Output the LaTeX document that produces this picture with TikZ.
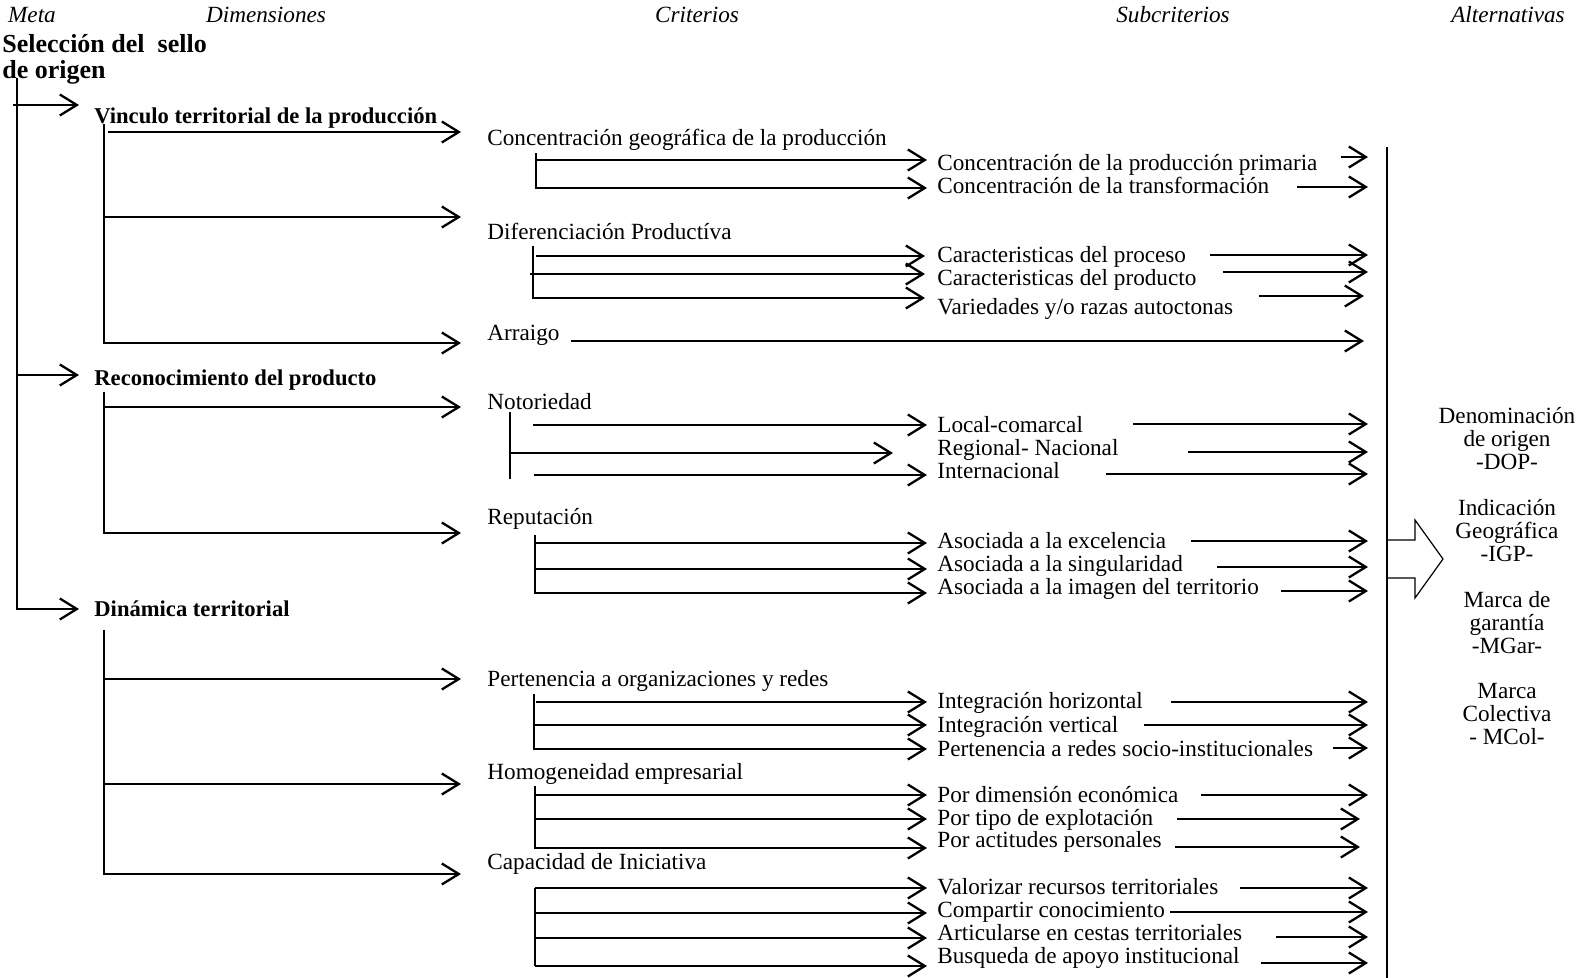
\documentclass[tikz,border=0pt]{standalone}
\usepackage{fontspec}
\setmainfont{Liberation Serif}
\usetikzlibrary{arrows.meta}
\tikzset{
  sublbl/.style={anchor=base west, inner sep=0pt, font=\fontsize{11.6}{11.5}\selectfont},
  critlbl/.style={sublbl},
  dimlbl/.style={anchor=base west, inner sep=0pt, font=\fontsize{11.3}{11.5}\selectfont\bfseries},
  hdr/.style={anchor=base, inner sep=0pt, font=\fontsize{11.6}{11.5}\selectfont\itshape},
  altlbl/.style={anchor=north, align=center, inner sep=0pt, font=\fontsize{11.6}{11.5}\selectfont},
  arr/.style={-{Straight Barb[length=8.5pt,width=10.5pt]}, line width=1.15pt},
  spine/.style={line width=1.15pt}
}

\begin{document}
\begin{tikzpicture}[x=0.5pt,y=-0.5pt]
\useasboundingbox (0,0) rectangle (1576,978);

% column titles
\node[hdr] (hmeta) at (32,23) {Meta};
\node[hdr] (hdim) at (266,23) {Dimensiones};
\node[hdr] (hcrit) at (697,23) {Criterios};
\node[hdr] (hsub) at (1173,23) {Subcriterios};
\node[hdr] (halt) at (1508,23) {Alternativas};

% goal and dimensions
\node[anchor=north west, align=left, inner sep=0pt, font=\fontsize{13}{13}\selectfont\bfseries]
  (goal) at (2,34) {Selección del\ \ sello\\de origen};
\node[dimlbl] (vinc) at (94,124) {Vinculo territorial de la producción};
\node[dimlbl] (recon) at (94,386) {Reconocimiento del producto};
\node[dimlbl] (dinam) at (94,617) {Dinámica territorial};

% criteria
\node[critlbl] (cgeo) at (487,146) {Concentración geográfica de la producción};
\node[critlbl] (cdif) at (487,240) {Diferenciación Productíva};
\node[critlbl] (carr) at (487,341) {Arraigo};
\node[critlbl] (cnot) at (487,410) {Notoriedad};
\node[critlbl] (crep) at (487,525) {Reputación};
\node[critlbl] (cper) at (487,687) {Pertenencia a organizaciones y redes};
\node[critlbl] (chom) at (487,779) {Homogeneidad empresarial};
\node[critlbl] (ccap) at (487,870) {Capacidad de Iniciativa};

% subcriteria
\node[sublbl] (sprim) at (937,171) {Concentración de la producción primaria};
\node[sublbl] (strans) at (937,194) {Concentración de la transformación};
\node[sublbl] (sproc) at (937,263) {Caracteristicas del proceso};
\node[sublbl] (sprod) at (937,286) {Caracteristicas del producto};
\node[sublbl] (svar) at (937,315) {Variedades y/o razas autoctonas};
\node[sublbl] (sloc) at (937,433) {Local-comarcal};
\node[sublbl] (sreg) at (937,456) {Regional- Nacional};
\node[sublbl] (sint) at (937,479) {Internacional};
\node[sublbl] (sexc) at (937,549) {Asociada a la excelencia};
\node[sublbl] (ssin) at (937,572) {Asociada a la singularidad};
\node[sublbl] (sima) at (937,595) {Asociada a la imagen del territorio};
\node[sublbl] (shor) at (937,709) {Integración horizontal};
\node[sublbl] (sver) at (937,733) {Integración vertical};
\node[sublbl] (sred) at (937,756) {Pertenencia a redes socio-institucionales};
\node[sublbl] (seco) at (937,802) {Por dimensión económica};
\node[sublbl] (stip) at (937,825) {Por tipo de explotación};
\node[sublbl] (sact) at (937,848) {Por actitudes personales};
\node[sublbl] (sval) at (937,894) {Valorizar recursos territoriales};
\node[sublbl] (scom) at (937,917) {Compartir conocimiento};
\node[sublbl] (sart) at (937,940) {Articularse en cestas territoriales};
\node[sublbl] (sbus) at (937,963) {Busqueda de apoyo institucional};

% alternatives
\node[altlbl] (adop) at (1507,407) {Denominación\\de origen\\-DOP-};
\node[altlbl] (aigp) at (1507,499) {Indicación\\Geográfica\\-IGP-};
\node[altlbl] (amgar) at (1507,591) {Marca de\\garantía\\-MGar-};
\node[altlbl] (amcol) at (1507,683) {Marca\\Colectiva\\- MCol-};

% goal -> dimensions
\coordinate (gtop) at (17,78);
\draw[arr] ([xshift=-2pt]gtop |- 0,105) -- ([xshift=-7.5pt]vinc.base west |- 0,105);
\draw[arr] (gtop |- 0,375) -- ([xshift=-7.5pt]recon.base west |- 0,375);
\draw[arr] (gtop) |- ([xshift=-7.5pt]dinam.base west |- 0,609);

% dimensions -> criteria
\coordinate (vtop) at (104,124);
\draw[arr] ([xshift=2pt]vtop |- 0,132) -- ([xshift=-13pt]cgeo.base west |- 0,132);
\draw[arr] (vtop |- 0,217) -- ([xshift=-13pt]cdif.base west |- 0,217);
\draw[arr] (vtop) |- ([xshift=-13pt]carr.base west |- 0,343);
\coordinate (rtop) at (104,392);
\draw[arr] (rtop |- 0,407) -- ([xshift=-13pt]cnot.base west |- 0,407);
\draw[arr] (rtop) |- ([xshift=-13pt]crep.base west |- 0,533);
\coordinate (dtop) at (104,630);
\draw[arr] (dtop |- 0,679) -- ([xshift=-13pt]cper.base west |- 0,679);
\draw[arr] (dtop |- 0,784) -- ([xshift=-13pt]chom.base west |- 0,784);
\draw[arr] (dtop) |- ([xshift=-13pt]ccap.base west |- 0,874);

% criteria -> subcriteria
\coordinate (geotop) at (536,153);
\draw[arr] (geotop |- 0,160) -- ([xshift=-5pt]sprim.base west |- 0,160);
\draw[arr] (geotop) |- ([xshift=-5pt]strans.base west |- 0,188);
\coordinate (diftop) at (533,246);
\draw[arr] ([xshift=1.5pt]diftop |- 0,256) -- ([xshift=-6pt]sproc.base west |- 0,256);
\draw[arr] ([xshift=-1.5pt]diftop |- 0,274) -- ([xshift=-6pt]sprod.base west |- 0,274);
\draw[arr] (diftop) |- ([xshift=-6pt]svar.base west |- 0,298);
\coordinate (nottop) at (510,412);
\draw[spine] (nottop) -- (nottop |- 0,479);
\draw[arr] ([xshift=11.5pt]nottop |- 0,425) -- ([xshift=-5pt]sloc.base west |- 0,425);
\draw[arr] (nottop |- 0,453) -- ([xshift=-22pt]sreg.base west |- 0,453);
\draw[arr] ([xshift=12pt]nottop |- 0,475) -- ([xshift=-5pt]sint.base west |- 0,475);
\coordinate (reptop) at (535,535);
\draw[arr] (reptop |- 0,543) -- ([xshift=-5pt]sexc.base west |- 0,543);
\draw[arr] (reptop |- 0,569) -- ([xshift=-5pt]ssin.base west |- 0,569);
\draw[arr] (reptop) |- ([xshift=-5pt]sima.base west |- 0,593);
\coordinate (pertop) at (534,694);
\draw[arr] ([xshift=1pt]pertop |- 0,702) -- ([xshift=-5pt]shor.base west |- 0,702);
\draw[arr] (pertop |- 0,725) -- ([xshift=-5pt]sver.base west |- 0,725);
\draw[arr] (pertop) |- ([xshift=-5pt]sred.base west |- 0,749);
\coordinate (homtop) at (535,786);
\draw[arr] (homtop |- 0,795) -- ([xshift=-5pt]seco.base west |- 0,795);
\draw[arr] (homtop |- 0,819) -- ([xshift=-5pt]stip.base west |- 0,819);
\draw[arr] (homtop) |- ([xshift=-5pt]sact.base west |- 0,848);
\coordinate (captop) at (535,888);
\draw[spine] (captop) -- (captop |- 0,966);
\draw[arr] (captop) -- ([xshift=-5pt]sval.base west |- 0,888);
\draw[arr] (captop |- 0,913) -- ([xshift=-5pt]scom.base west |- 0,913);
\draw[arr] (captop |- 0,938) -- ([xshift=-5pt]sart.base west |- 0,938);
\draw[arr] (captop |- 0,966) -- ([xshift=-5pt]sbus.base west |- 0,966);

% subcriteria -> alternatives
\coordinate (tipcol) at (1368,0);
\draw[arr] ([xshift=11.5pt]sprim.base east |- 0,157) -- (tipcol |- 0,157);
\draw[arr] ([xshift=13.5pt]strans.base east |- 0,187) -- (tipcol |- 0,187);
\draw[arr] ([xshift=12pt]sproc.base east |- 0,255) -- (tipcol |- 0,255);
\draw[arr] ([xshift=13pt]sprod.base east |- 0,272) -- (tipcol |- 0,272);
\draw[arr] ([xshift=13pt]svar.base east |- 0,296) -- ([xshift=-2pt]tipcol |- 0,296);
\draw[arr] ([xshift=5.5pt]carr.base east |- 0,341) -- ([xshift=-2pt]tipcol |- 0,341);
\draw[arr] ([xshift=25pt]sloc.base east |- 0,424) -- (tipcol |- 0,424);
\draw[arr] ([xshift=34.5pt]sreg.base east |- 0,452) -- (tipcol |- 0,452);
\draw[arr] ([xshift=23pt]sint.base east |- 0,474) -- (tipcol |- 0,474);
\draw[arr] ([xshift=12.5pt]sexc.base east |- 0,541) -- (tipcol |- 0,541);
\draw[arr] ([xshift=17pt]ssin.base east |- 0,567) -- (tipcol |- 0,567);
\draw[arr] ([xshift=11pt]sima.base east |- 0,591) -- (tipcol |- 0,591);
\draw[arr] ([xshift=14pt]shor.base east |- 0,702) -- (tipcol |- 0,702);
\draw[arr] ([xshift=12.5pt]sver.base east |- 0,725) -- (tipcol |- 0,725);
\draw[arr] ([xshift=10pt]sred.base east |- 0,748) -- (tipcol |- 0,748);
\draw[arr] ([xshift=11pt]seco.base east |- 0,795) -- (tipcol |- 0,795);
\draw[arr] ([xshift=11.5pt]stip.base east |- 0,819) -- ([xshift=-4pt]tipcol |- 0,819);
\draw[arr] ([xshift=6.5pt]sact.base east |- 0,847) -- ([xshift=-4pt]tipcol |- 0,847);
\draw[arr] ([xshift=10.5pt]sval.base east |- 0,888) -- (tipcol |- 0,888);
\draw[arr] ([xshift=2.5pt]scom.base east |- 0,912) -- (tipcol |- 0,912);
\draw[arr] ([xshift=17pt]sart.base east |- 0,937) -- (tipcol |- 0,937);
\draw[arr] ([xshift=10.5pt]sbus.base east |- 0,963) -- (tipcol |- 0,963);

% bar and block arrow
\coordinate (bartop) at (1387,147);
\coordinate (barbot) at (1387,978);
\draw[spine] (bartop) -- (barbot);
\draw[line width=0.6pt] (bartop |- 0,540) -- ++(28,0) -- ++(0,-20) -- ++(28,39)
  -- ++(-28,39) -- ++(0,-20) -- ++(-28,0);
\end{tikzpicture}
\end{document}
